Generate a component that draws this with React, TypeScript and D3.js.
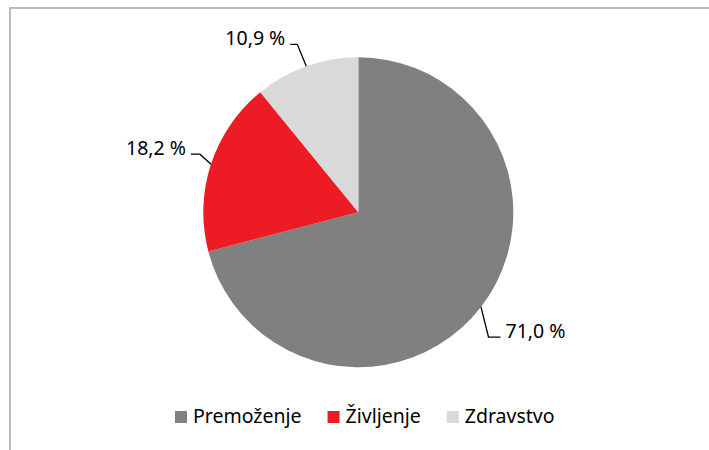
import React, { useEffect, useRef } from "react";
import * as d3 from "d3";

const categories = ["Premoženje", "Življenje", "Zdravstvo"];
const values = [71.0, 18.2, 10.9];
const valueLabels = ["71,0 %", "18,2 %", "10,9 %"];
const colors = ["#808080", "#ED1C24", "#D9D9D9"];
// leader elbow offsets from the slice's outer mid point (layout)
const leaderElbow: [number, number][] = [[7.5, 30], [-11, -10], [-9, -22]];
const leaderTail = [12, -9, -7];

const W = 709;
const H = 450;
const FONT = "'Noto Sans', 'Open Sans', sans-serif";
const FS = 19.5;

export default function App() {
  const ref = useRef<SVGSVGElement | null>(null);

  useEffect(() => {
    const svg = d3.select(ref.current);
    svg.selectAll("*").remove();

    svg
      .append("rect")
      .attr("x", 10)
      .attr("y", 8)
      .attr("width", W + 20)
      .attr("height", H + 20)
      .attr("fill", "#fff")
      .attr("stroke", "#A6A6A6")
      .attr("stroke-width", 1.5);

    const cx = 358.3;
    const cy = 212.3;
    const r = 155;

    const pie = d3.pie<number>().sort(null).value((d) => d);
    const arcs = pie(values);
    const arc = d3.arc<d3.PieArcDatum<number>>().innerRadius(0).outerRadius(r);

    const g = svg.append("g").attr("transform", `translate(${cx},${cy})`);
    g.selectAll("path")
      .data(arcs)
      .join("path")
      .attr("d", arc as any)
      .attr("fill", (_, i) => colors[i]);

    arcs.forEach((a, i) => {
      const mid = (a.startAngle + a.endAngle) / 2;
      const px = Math.sin(mid) * r;
      const py = -Math.cos(mid) * r;
      const ex = px + leaderElbow[i][0];
      const ey = py + leaderElbow[i][1];
      const tx = ex + leaderTail[i];
      g.append("polyline")
        .attr("points", `${px},${py} ${ex},${ey} ${tx},${ey}`)
        .attr("fill", "none")
        .attr("stroke", "#000")
        .attr("stroke-width", 1.3);
      const right = leaderTail[i] > 0;
      g.append("text")
        .attr("x", tx + (right ? 5 : -5))
        .attr("y", ey + 1)
        .attr("text-anchor", right ? "start" : "end")
        .attr("font-family", FONT)
        .attr("font-size", FS)
        .attr("fill", "#000")
        .text(valueLabels[i]);
    });

    // legend
    const lg = svg.append("g");
    let x = 175;
    const sq = 12;
    const baseline = 423;
    categories.forEach((c, i) => {
      lg.append("rect")
        .attr("x", x)
        .attr("y", baseline - sq)
        .attr("width", sq)
        .attr("height", sq)
        .attr("fill", colors[i]);
      const t = lg
        .append("text")
        .attr("x", x + sq + 6)
        .attr("y", baseline)
        .attr("font-family", FONT)
        .attr("font-size", FS)
        .attr("fill", "#000")
        .text(c);
      const w = (t.node() as SVGTextElement).getComputedTextLength();
      x = x + sq + 6 + w + 26;
    });
  }, []);

  return (
    <svg
      ref={ref}
      width={W}
      height={H}
      style={{ position: "absolute", left: 0, top: 0, background: "#fff" }}
    />
  );
}
